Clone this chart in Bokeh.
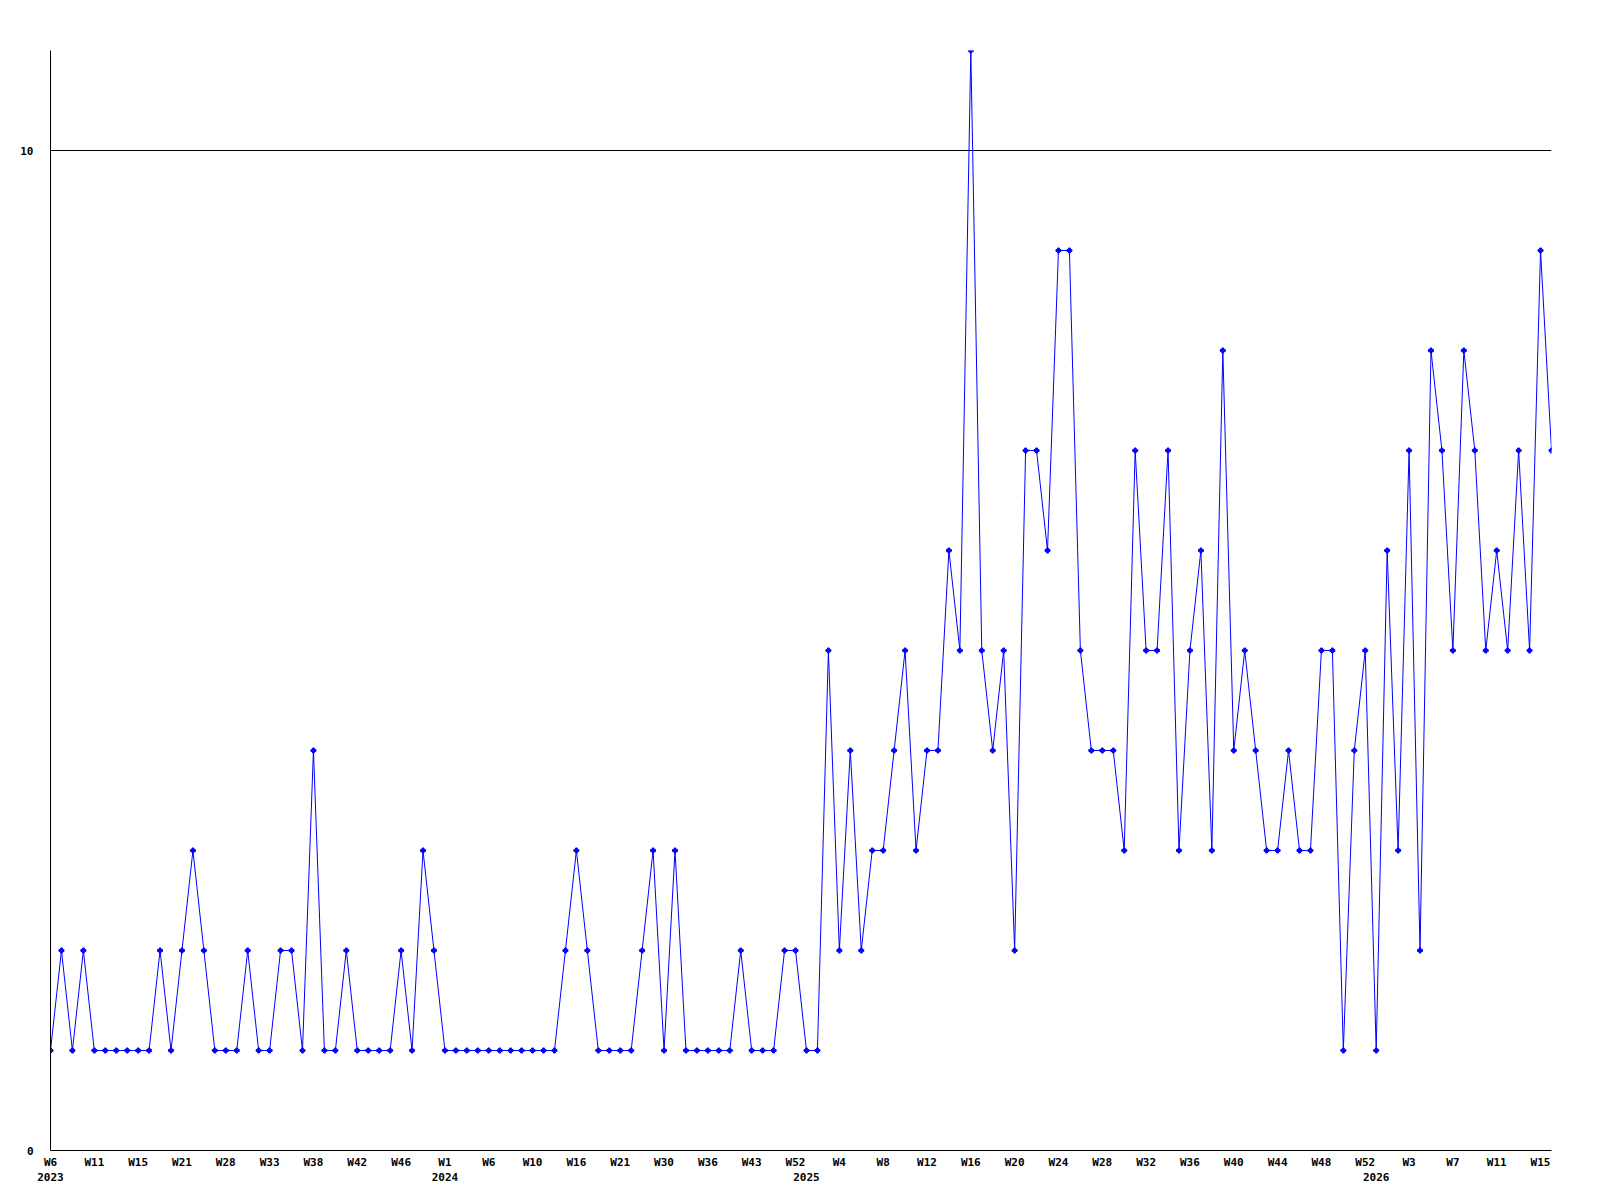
from bokeh.plotting import figure
from bokeh.models import Range1d, FixedTicker, LinearAxis
from bokeh.embed import file_html
from bokeh.resources import INLINE

# weekly counts (weeks without activity are not in the series)
counts_2023 = [1, 2, 1, 2, 1, 1, 1, 1, 1, 1, 2, 1, 2, 3, 2, 1, 1, 1, 2, 1, 1, 2, 2, 1,
               4, 1, 1, 2, 1, 1, 1, 1, 2, 1, 3, 2]
counts_2024 = [1, 1, 1, 1, 1, 1, 1, 1, 1, 1, 1, 2, 3, 2, 1, 1, 1, 1, 2, 3, 1, 3, 1, 1,
               1, 1, 1, 2, 1, 1, 1, 2, 2]
counts_2025 = [1, 1, 5, 2, 4, 2, 3, 3, 4, 5, 3, 4, 4, 6, 5, 11, 5, 4, 5, 2, 7, 7, 6, 9,
               9, 5, 4, 4, 4, 3, 7, 5, 5, 7, 3, 5, 6, 3, 8, 4, 5, 4, 3, 3, 4, 3, 3, 5,
               5, 1, 4, 5]
counts_2026 = [1, 6, 3, 7, 2, 8, 7, 5, 8, 7, 5, 6, 5, 7, 5, 9, 7]

years = ["2023", "2024", "2025", "2026"]
week_tick_labels = ["W6", "W11", "W15", "W21", "W28", "W33", "W38", "W42", "W46",
                    "W1", "W6", "W10", "W16", "W21", "W30", "W36", "W43", "W52",
                    "W4", "W8", "W12", "W16", "W20", "W24", "W28", "W32", "W36",
                    "W40", "W44", "W48", "W52", "W3", "W7", "W11", "W15"]
y_ticks = [0, 10]
label_every = 4

series = [counts_2023, counts_2024, counts_2025, counts_2026]
values = [v for s in series for v in s]
xs = list(range(len(values)))

year_starts = []
pos = 0
for s in series:
    year_starts.append(pos)
    pos += len(s)

FONT = "DejaVu Sans Mono"
BLUE = "#0000ff"

p = figure(width=1592, height=1192, output_backend="svg", toolbar_location=None,
           x_range=Range1d(0, len(values) - 1), y_range=Range1d(0, 11),
           min_border_left=50, min_border_right=41, min_border_top=50,
           min_border_bottom=42)
p.outline_line_color = None
p.background_fill_color = "white"
p.border_fill_color = "white"

p.line(xs, values, line_color=BLUE, line_width=1)
p.scatter(xs, values, marker="plus", size=5, color=BLUE)

# x axis: week labels
week_ticks = list(range(0, len(values), label_every))
xa = p.xaxis[0]
xa.ticker = FixedTicker(ticks=week_ticks)
xa.major_label_overrides = {t: lab for t, lab in zip(week_ticks, week_tick_labels)}
xa.major_tick_in = 0
xa.major_tick_out = 0
xa.minor_tick_line_color = None
xa.major_tick_line_color = None
xa.axis_line_color = "black"
xa.axis_line_width = 1
xa.major_label_standoff = 5
xa.major_label_text_font = FONT
xa.major_label_text_font_style = "bold"
xa.major_label_text_font_size = "11px"
xa.major_label_text_color = "black"

# second row: year labels
ya_ax = LinearAxis(ticker=FixedTicker(ticks=year_starts),
                   major_label_overrides={t: y for t, y in zip(year_starts, years)})
ya_ax.axis_line_color = None
ya_ax.major_tick_line_color = None
ya_ax.minor_tick_line_color = None
ya_ax.major_tick_in = 0
ya_ax.major_tick_out = 0
ya_ax.major_label_standoff = 1
ya_ax.major_label_text_font = FONT
ya_ax.major_label_text_font_style = "bold"
ya_ax.major_label_text_font_size = "11px"
ya_ax.major_label_text_color = "black"
p.add_layout(ya_ax, "below")

# y axis
yax = p.yaxis[0]
yax.ticker = FixedTicker(ticks=y_ticks)
yax.major_tick_in = 0
yax.major_tick_out = 0
yax.major_tick_line_color = None
yax.minor_tick_line_color = None
yax.axis_line_color = "black"
yax.major_label_standoff = 17
yax.major_label_text_font = FONT
yax.major_label_text_font_style = "bold"
yax.major_label_text_font_size = "11px"
yax.major_label_text_color = "black"

p.xgrid.visible = False
p.ygrid.ticker = FixedTicker(ticks=[10])
p.ygrid.grid_line_color = "black"
p.ygrid.grid_line_width = 1

open("out.html", "w").write(file_html(p, INLINE))
